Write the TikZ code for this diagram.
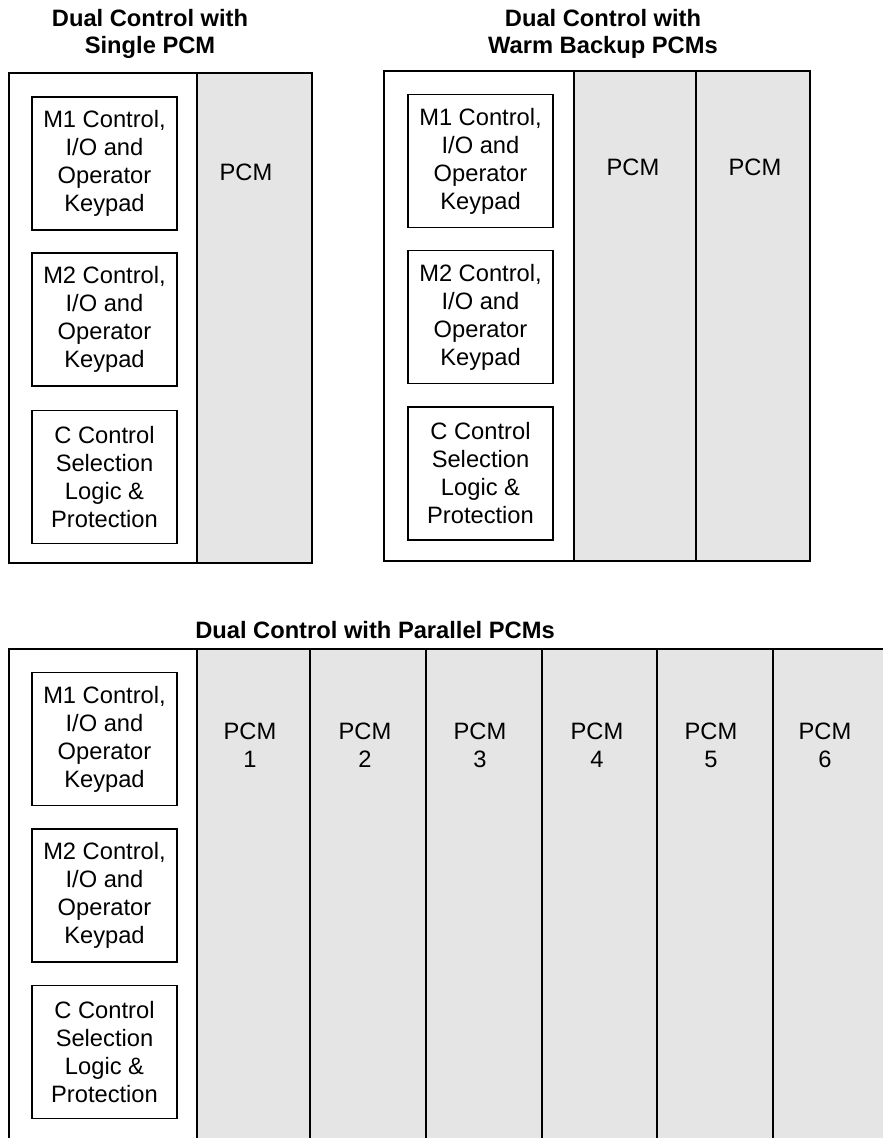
\documentclass[tikz,border=0pt]{standalone}
\usepackage{fontspec}
\setmainfont{Liberation Sans}
\definecolor{pcmgrey}{HTML}{E5E5E5}
\newcommand\bodyfnt{\fontsize{23.7}{28}\selectfont}
\newcommand\titlefnt{\fontsize{23.7}{27}\selectfont\bfseries}
\tikzset{
  frameline/.style={draw=black, line width=1.4pt},
  pcmcol/.style={fill=pcmgrey, draw=black, line width=1.4pt},
  ctrlbox/.style={draw=black, line width=1.5pt, minimum width=145pt, minimum height=133pt, inner sep=0pt, align=center, font=\bodyfnt},
  paneltitle/.style={font=\titlefnt, align=center, inner sep=0pt},
  pcmlabel/.style={font=\bodyfnt, align=center, inner sep=0pt}
}
\begin{document}
\begin{tikzpicture}[x=1pt,y=-1pt]
\useasboundingbox (0,0) rectangle (883,1138);
% ---------- Top-left panel ----------
\node[paneltitle] (t1) at (150,33.5) {Dual Control with\\Single PCM};
\fill[white] (9,73) rectangle (197,563);
\filldraw[pcmcol] (197,73) rectangle (312,563);
\draw[frameline] (197,73) -- (9,73) -- (9,563) -- (200,563);
\node[ctrlbox] (tlm1) at (104.5,163.5) {M1 Control,\\I/O and\\Operator\\Keypad};
\node[ctrlbox] (tlm2) at (104.5,319.5) {M2 Control,\\I/O and\\Operator\\Keypad};
\node[ctrlbox] (tlc) at (104.5,477) {C Control\\Selection\\Logic \&\\Protection};
\node[pcmlabel] (tlp) at (246,172.5) {PCM};
% ---------- Top-right panel ----------
\node[paneltitle] (t2) at (603,33.5) {Dual Control with\\Warm Backup PCMs};
\fill[white] (384,71) rectangle (574,561);
\filldraw[pcmcol] (574,71) rectangle (696,561);
\filldraw[pcmcol] (696,71) rectangle (810,561);
\draw[frameline] (574,71) -- (384,71) -- (384,561) -- (574,561);
\node[ctrlbox] (trm1) at (480.5,161) {M1 Control,\\I/O and\\Operator\\Keypad};
\node[ctrlbox] (trm2) at (480.5,317) {M2 Control,\\I/O and\\Operator\\Keypad};
\node[ctrlbox] (trc) at (480.5,473.5) {C Control\\Selection\\Logic \&\\Protection};
\node[pcmlabel] (trp1) at (633,167) {PCM};
\node[pcmlabel] (trp2) at (755,167) {PCM};
% ---------- Bottom panel ----------
\node[paneltitle] (t3) at (375,630) {Dual Control with Parallel PCMs};
\fill[pcmgrey] (197,649) rectangle (884,1139);
\draw[frameline] (884,649) -- (9,649) -- (9,1139);
\foreach \xx in {197,310,426,542,657,773} {
  \draw[frameline] (\xx,649) -- (\xx,1139);
}
\node[ctrlbox] (bm1) at (104.5,739) {M1 Control,\\I/O and\\Operator\\Keypad};
\node[ctrlbox] (bm2) at (104.5,895.5) {M2 Control,\\I/O and\\Operator\\Keypad};
\node[ctrlbox] (bc) at (104.5,1052) {C Control\\Selection\\Logic \&\\Protection};
\node[pcmlabel] (bp1) at (250,745) {PCM\\1};
\node[pcmlabel] (bp2) at (365,745) {PCM\\2};
\node[pcmlabel] (bp3) at (480,745) {PCM\\3};
\node[pcmlabel] (bp4) at (597,745) {PCM\\4};
\node[pcmlabel] (bp5) at (711,745) {PCM\\5};
\node[pcmlabel] (bp6) at (825,745) {PCM\\6};
\end{tikzpicture}
\end{document}
